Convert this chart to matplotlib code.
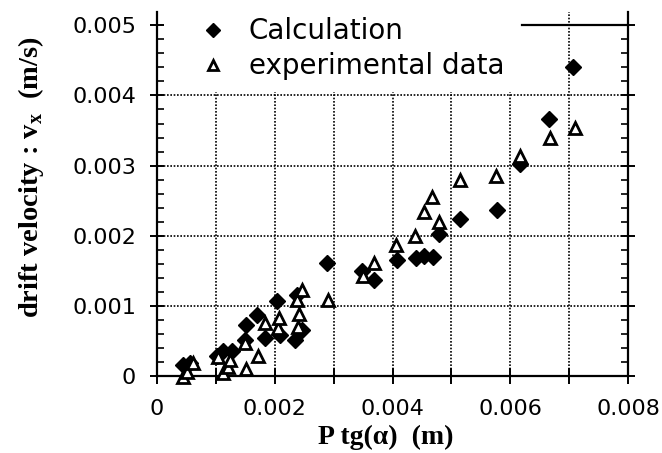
import matplotlib
matplotlib.use("Agg")
import matplotlib.pyplot as plt
from matplotlib.patches import Rectangle
from matplotlib.ticker import MultipleLocator, FuncFormatter

plt.rcParams["mathtext.fontset"] = "custom"
plt.rcParams["mathtext.rm"] = "Liberation Serif:bold"
plt.rcParams["mathtext.bf"] = "Liberation Serif:bold"

# Calculation (filled diamonds)
calc_x = [0.00045, 0.00056, 0.00102, 0.00113, 0.00127, 0.00150, 0.00151, 0.00170,
          0.00184, 0.00204, 0.00209, 0.00235, 0.00238, 0.00246, 0.00289, 0.00348,
          0.00369, 0.00408, 0.00439, 0.00454, 0.00469, 0.00478, 0.00515, 0.00578,
          0.00616, 0.00665, 0.00707]
calc_y = [0.00016, 0.00018, 0.00028, 0.00035, 0.00035, 0.00051, 0.00073, 0.00087,
          0.00054, 0.00107, 0.00058, 0.00052, 0.00115, 0.00066, 0.00161, 0.00149,
          0.00137, 0.00166, 0.00168, 0.00171, 0.00169, 0.00202, 0.00224, 0.00236,
          0.00302, 0.00366, 0.00441]

# experimental data (open triangles)
exp_x = [0.00044, 0.00051, 0.00062, 0.00104, 0.00112, 0.00120, 0.00124, 0.00150,
         0.00151, 0.00171, 0.00184, 0.00205, 0.00208, 0.00238, 0.00240, 0.00241,
         0.00246, 0.00291, 0.00349, 0.00368, 0.00406, 0.00438, 0.00453, 0.00467,
         0.00478, 0.00514, 0.00575, 0.00616, 0.00667, 0.00709]
exp_y = [-0.00002, 0.00006, 0.00018, 0.00027, 0.00004, 0.00013, 0.00023, 0.00047,
         0.00010, 0.00028, 0.00076, 0.00068, 0.00082, 0.00108, 0.00070, 0.00089,
         0.00122, 0.00109, 0.00142, 0.00161, 0.00187, 0.00199, 0.00234, 0.00255,
         0.00220, 0.00279, 0.00285, 0.00313, 0.00340, 0.00353]

x_labels = {0: "0", 2: "0.002", 4: "0.004", 6: "0.006", 8: "0.008"}

fig = plt.figure(figsize=(6.62, 4.53), dpi=100)
ax = fig.add_axes([0.237, 0.170, 0.712, 0.8035])

ax.set_xlim(0, 0.008)
ax.set_ylim(0, 0.00519)

ax.xaxis.set_major_locator(MultipleLocator(0.001))
ax.yaxis.set_major_locator(MultipleLocator(0.001))
ax.yaxis.set_minor_locator(MultipleLocator(0.0002))
ax.xaxis.set_major_formatter(FuncFormatter(lambda v, p: x_labels.get(int(round(v * 1000)), "")))
ax.yaxis.set_major_formatter(FuncFormatter(lambda v, p: "0" if abs(v) < 1e-9 else f"{v:.3f}"))

ax.grid(True, which="major", color="black", linestyle=(0, (1, 1)), linewidth=1.2)
ax.spines["top"].set_visible(False)
for s in ("left", "right", "bottom"):
    ax.spines[s].set_linewidth(1.6)

ax.tick_params(axis="x", which="major", direction="inout", length=11, width=1.4,
               labelsize=16, pad=11, top=False)
ax.tick_params(axis="y", which="major", direction="inout", length=10, width=1.4,
               labelsize=16, right=True, pad=10)
ax.tick_params(axis="y", which="minor", direction="in", length=5, width=1.2, right=True)

# partial top line (the rest is hidden behind the legend block)
ax.plot([0.0062, 0.008], [0.005, 0.005], color="black", lw=1.6, clip_on=False, zorder=3)
ax.add_patch(Rectangle((0.00012, 0.00405), 0.00608, 0.0012, facecolor="white",
                       edgecolor="none", zorder=2, clip_on=False))

ax.plot(calc_x, calc_y, linestyle="none", marker="D", ms=8, color="black",
        label="Calculation", zorder=4)
ax.plot(exp_x, exp_y, linestyle="none", marker="^", ms=8.5, mfc="white",
        mec="black", mew=2.0, label="experimental data", zorder=5, clip_on=False)

ax.legend(loc="upper left", bbox_to_anchor=(0.089, 0.985), frameon=False,
          prop={"family": "DejaVu Sans", "size": 20}, handletextpad=0.8,
          labelspacing=0.25, handlelength=1.0, borderpad=0, borderaxespad=0,
          markerscale=0.85)

ax.set_xlabel("P tg(α)  (m)", fontsize=20, fontweight="bold", family="Liberation Serif")
ax.set_ylabel(r"drift velocity : v$_{\mathbf{x}}$  (m/s)", fontsize=20.5,
              fontweight="bold", family="Liberation Serif")
ax.xaxis.set_label_coords(0.485, -0.135)
ax.yaxis.set_label_coords(-0.235, 0.545)

fig.savefig("out.png", dpi=100)
